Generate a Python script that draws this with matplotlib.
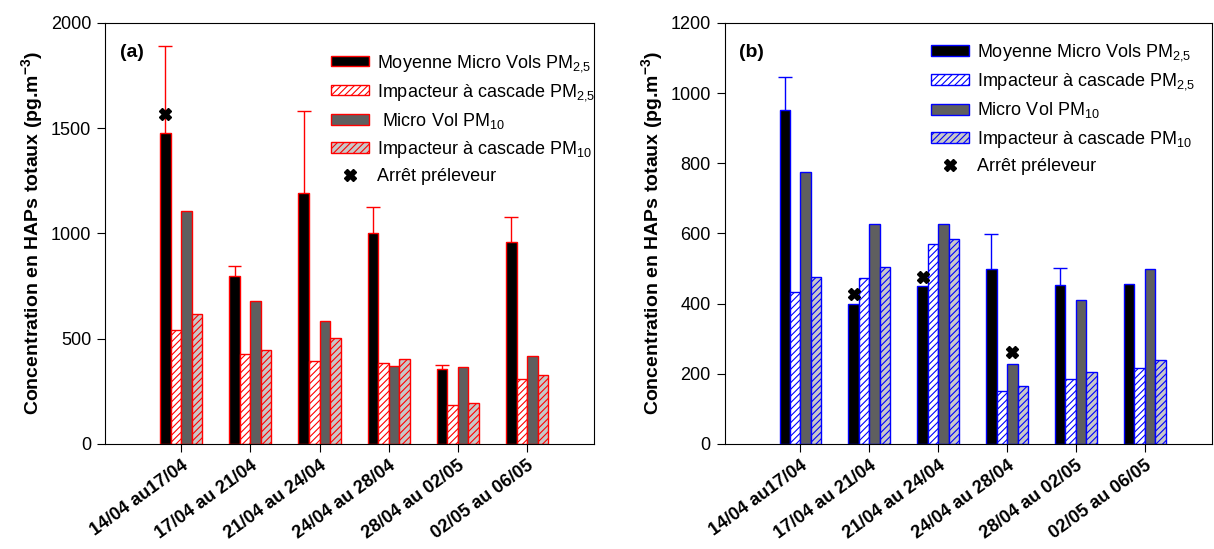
"""
Concentrations en HAPs totaux - Micro Vols vs Impacteur à cascade
"""

import numpy as np
import matplotlib.pyplot as plt
from matplotlib.patches import Patch
from matplotlib.lines import Line2D

plt.rcParams['font.family'] = ['Liberation Sans', 'DejaVu Sans']
plt.rcParams['mathtext.fontset'] = 'custom'
plt.rcParams['mathtext.rm'] = 'Liberation Sans'
plt.rcParams['mathtext.it'] = 'Liberation Sans'
plt.rcParams['mathtext.bf'] = 'Liberation Sans:bold'
plt.rcParams['hatch.linewidth'] = 0.8

# ==================== DONNÉES ====================
periodes = ['14/04 au17/04', '17/04 au 21/04', '21/04 au 24/04',
            '24/04 au 28/04', '28/04 au 02/05', '02/05 au 06/05']

# (a)
a_micro25 = [1479, 798, 1191, 1001, 355, 961]
a_micro25_err = [413, 48, 391, 123, 19, 119]
a_casc25 = [541, 426, 394, 386, 185, 309]
a_micro10 = [1107, 678, 586, 372, 367, 418]
a_casc10 = [616, 447, 502, 404, 193, 329]
a_arret_idx = [0]
a_arret_serie = [0]          # 0 = micro 2.5, 2 = micro 10
a_arret_val = [1566]

# (b)
b_micro25 = [951, 399, 451, 500, 453, 456]
b_micro25_err = [94, 0, 0, 98, 48, 0]
b_casc25 = [434, 472, 569, 152, 186, 217]
b_micro10 = [776, 628, 628, 229, 411, 500]
b_casc10 = [477, 504, 585, 164, 206, 240]
b_arret_idx = [1, 2, 3]
b_arret_serie = [0, 0, 2]
b_arret_val = [427, 477, 261]


def panneau(ax, micro25, err25, casc25, micro10, casc10,
            arret_idx, arret_serie, arret_val, couleur, ymax, ystep, lettre,
            leg_x, leg_y):
    x = np.arange(len(periodes))
    w = 0.152
    offs = np.array([-1.5, -0.5, 0.5, 1.5]) * w

    ax.bar(x + offs[0], micro25, w, color='black', edgecolor=couleur, linewidth=1)
    ax.bar(x + offs[1], casc25, w, color='white', edgecolor=couleur,
           hatch='/////', linewidth=1)
    ax.bar(x + offs[2], micro10, w, color='#5f5f5f', edgecolor=couleur, linewidth=1)
    ax.bar(x + offs[3], casc10, w, color='#c8c8c8', edgecolor=couleur,
           hatch='/////', linewidth=1)

    # barres d'erreur (vers le haut seulement)
    haut = np.array(micro25)
    err = np.array(err25)
    m = err > 0
    xe = (x + offs[0])[m]
    ax.vlines(xe, haut[m], haut[m] + err[m], color=couleur, linewidth=1)
    ax.hlines(haut[m] + err[m], xe - 0.1, xe + 0.1, color=couleur, linewidth=1)

    ax.plot(x[arret_idx] + offs[arret_serie], arret_val, linestyle='none',
            marker='X', color='black', markersize=8.5, zorder=5)

    ax.set_xlim(-1.1, 5.97)
    ax.set_ylim(0, ymax)
    ax.set_yticks(np.arange(0, ymax + 1, ystep))
    ax.set_xticks(x)
    ax.set_xticklabels(periodes, rotation=36, ha='right', rotation_mode='anchor',
                       fontweight='bold', fontsize=13)
    ax.tick_params(axis='y', labelsize=13, direction='out', length=6, pad=4)
    ax.tick_params(axis='x', direction='out', length=6)
    ax.set_ylabel(r'Concentration en HAPs totaux (pg.m$^{\mathbf{-3}}$)',
                  fontweight='bold', fontsize=14, labelpad=4)
    ax.text(0.03, 0.95, lettre, transform=ax.transAxes, fontsize=14,
            fontweight='bold', va='top')

    handles = [
        Patch(facecolor='black', edgecolor=couleur),
        Patch(facecolor='white', edgecolor=couleur, hatch='/////'),
        Patch(facecolor='#5f5f5f', edgecolor=couleur),
        Patch(facecolor='#c8c8c8', edgecolor=couleur, hatch='/////'),
        Line2D([], [], linestyle='none', marker='X', color='black', markersize=8.5),
    ]
    labels = ['Moyenne Micro Vols PM$_{2{,}5}$', 'Impacteur à cascade PM$_{2{,}5}$',
              ' Micro Vol PM$_{10}$' if lettre == '(a)' else 'Micro Vol PM$_{10}$',
              'Impacteur à cascade PM$_{10}$', 'Arrêt préleveur']
    ax.legend(handles, labels, loc='upper left', frameon=False, fontsize=13,
              bbox_to_anchor=(leg_x, leg_y),
              handlelength=2.1, handleheight=0.55, handletextpad=0.45,
              labelspacing=0.45, borderpad=0)


fig = plt.figure(figsize=(12.14, 5.49), dpi=100)
ax1 = fig.add_axes([0.0865, 0.1913, 0.403, 0.767])
ax2 = fig.add_axes([0.597, 0.1913, 0.401, 0.767])

panneau(ax1, a_micro25, a_micro25_err, a_casc25, a_micro10, a_casc10,
        a_arret_idx, a_arret_serie, a_arret_val, 'red', 2000, 500, '(a)',
        0.443, 0.95)
panneau(ax2, b_micro25, b_micro25_err, b_casc25, b_micro10, b_casc10,
        b_arret_idx, b_arret_serie, b_arret_val, 'blue', 1200, 200, '(b)',
        0.405, 0.975)

plt.savefig('out.png', dpi=100)
